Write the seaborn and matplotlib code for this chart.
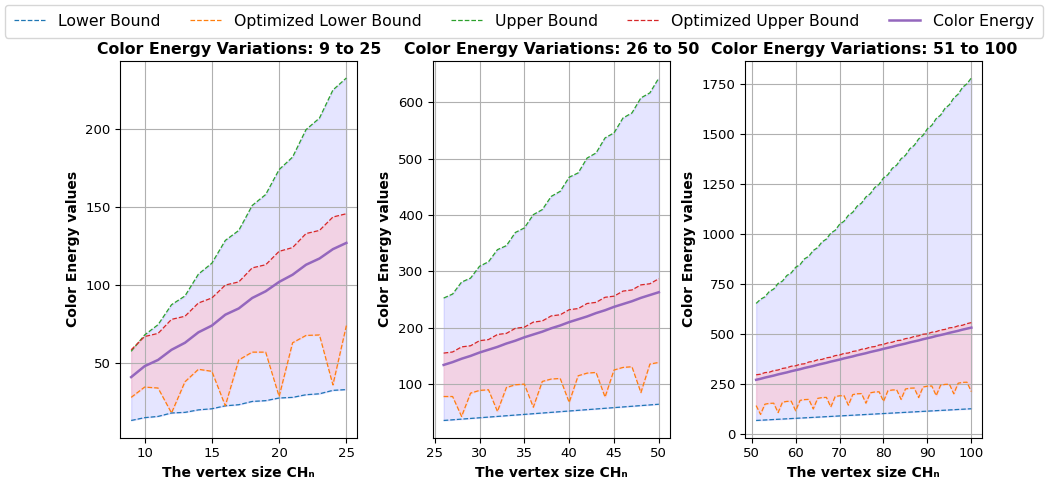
import numpy as np
import pandas as pd
import matplotlib
matplotlib.use("Agg")
import matplotlib.pyplot as plt
from matplotlib.ticker import MultipleLocator
import seaborn as sns

# ---- panel 1: n = 9..25
n1 = list(range(9, 26))
lower1 = [13.2, 15.0, 15.8, 18.0, 18.4, 20.0, 20.7, 22.6, 23.3, 25.4, 25.9, 27.6, 28.0, 29.7, 30.3, 32.5, 33.0]
opt_lower1 = [28.0, 34.6, 34.0, 18.0, 38.0, 46.0, 44.7, 22.6, 52.0, 57.0, 57.0, 28.6, 63.0, 67.7, 68.0, 36.0, 74.0]
upper1 = [57.5, 68.0, 74.6, 87.4, 93.0, 107.0, 114.0, 128.6, 135.0, 151.0, 158.0, 174.0, 182.0, 199.6, 207.0, 225.0, 232.7]
opt_upper1 = [58.5, 67.0, 69.0, 78.0, 80.0, 88.5, 91.7, 100.0, 102.0, 111.0, 113.0, 121.6, 124.0, 133.0, 135.0, 143.6, 145.7]
energy1 = [41.0, 48.0, 52.0, 58.5, 63.0, 69.7, 74.0, 81.0, 85.0, 91.7, 96.0, 102.0, 106.6, 113.0, 117.0, 123.0, 127.0]

# ---- panel 2: n = 26..50
n2 = list(range(26, 51))
lower2 = [35.5, 36.7, 37.9, 39.1, 40.3, 41.5, 42.7, 43.9, 45.1, 46.3, 47.5, 48.7, 49.9,
          51.1, 52.3, 53.5, 54.7, 55.9, 57.1, 58.3, 59.5, 60.7, 61.9, 63.1, 64.3]
opt_lower2 = [78.0, 78.0, 42.6, 84.0, 88.8, 90.0, 51.5, 94.0, 98.8, 100.0, 59.0, 104.7, 109.0,
              110.0, 67.5, 114.8, 119.5, 120.7, 77.0, 125.0, 129.6, 130.8, 85.0, 135.5, 138.5]
upper2 = [252.6, 259.8, 281.0, 288.0, 309.0, 317.0, 338.5, 345.6, 369.0, 377.0, 400.6, 409.5, 433.0,
          442.0, 467.0, 474.6, 501.0, 510.0, 536.7, 545.6, 572.0, 581.0, 607.7, 616.6, 643.0]
opt_upper2 = [155, 157, 166, 168, 177, 179, 188, 190, 199, 201, 210, 212, 221,
              223, 232, 234, 243, 245, 254, 256, 265, 267, 276, 278, 287]
energy2 = [134, 139, 145, 150, 156, 161, 166, 172, 177, 183, 188, 193, 199,
           204, 210, 215, 220, 226, 231, 237, 242, 247, 253, 258, 263]

# ---- panel 3: n = 51..100
n3 = list(range(51, 101))
lower3 = [66.5, 67.8, 68.9, 70.1, 71.3, 72.5, 73.7, 74.9, 76.1, 77.3,
          78.5, 79.6, 80.8, 82.0, 83.2, 84.4, 85.6, 86.8, 88.0, 89.2,
          90.4, 91.6, 92.8, 94.0, 95.2, 96.4, 97.6, 98.8, 100.0, 101.2,
          102.4, 103.6, 104.8, 106.0, 107.2, 108.4, 109.6, 110.8, 112.0, 113.2,
          114.4, 115.6, 116.8, 118.0, 119.2, 120.4, 121.6, 122.8, 124.0, 125.2]
opt_lower3 = [141, 97, 148, 152, 153, 106, 158, 162, 163, 115,
              167, 171, 172, 124, 177, 181, 182, 134, 186, 190,
              191, 143, 196, 200, 201, 153, 205, 209, 210, 162,
              215, 219, 220, 172, 224, 228, 229, 181, 234, 238,
              239, 191, 243, 247, 248, 200, 253, 257, 258, 211]
upper3 = [652, 673, 685, 712, 724, 752, 764, 792, 805, 833,
          846, 875, 888, 917, 931, 960, 974, 1004, 1018, 1048,
          1063, 1093, 1108, 1139, 1154, 1185, 1201, 1232, 1248, 1280,
          1296, 1328, 1344, 1376, 1393, 1426, 1443, 1475, 1493, 1526,
          1543, 1577, 1594, 1628, 1646, 1680, 1699, 1733, 1751, 1780]
opt_upper3 = [295, 298, 306, 308, 316, 319, 327, 330, 338, 340,
              348, 350, 359, 362, 370, 372, 380, 383, 391, 394,
              402, 404, 412, 415, 423, 426, 434, 436, 444, 447,
              455, 458, 466, 468, 476, 479, 487, 490, 498, 500,
              508, 511, 519, 522, 530, 532, 540, 543, 551, 556]
energy3 = [270, 275, 281, 286, 291, 297, 302, 307, 313, 318,
           323, 329, 334, 339, 345, 350, 355, 361, 366, 371,
           377, 382, 387, 393, 398, 403, 409, 414, 419, 425,
           430, 435, 441, 446, 451, 457, 462, 467, 473, 478,
           483, 489, 494, 499, 505, 510, 515, 521, 526, 531]

panels = [
    ("9 to 25", n1, lower1, opt_lower1, upper1, opt_upper1, energy1, 5),
    ("26 to 50", n2, lower2, opt_lower2, upper2, opt_upper2, energy2, 5),
    ("51 to 100", n3, lower3, opt_lower3, upper3, opt_upper3, energy3, 10),
]

fig, axes = plt.subplots(1, 3, figsize=(10.47, 4.83), dpi=100)
fig.subplots_adjust(left=0.115, right=0.938, bottom=0.094, top=0.874, wspace=0.32)

for ax, (label, n, lo, olo, up, oup, en, xstep) in zip(axes, panels):
    df = pd.DataFrame({"n": n, "lo": lo, "olo": olo, "up": up, "oup": oup, "en": en})
    sns.lineplot(data=df, x="n", y="lo", ax=ax, color="tab:blue", linestyle="--", linewidth=0.9, label="Lower Bound")
    sns.lineplot(data=df, x="n", y="olo", ax=ax, color="tab:orange", linestyle="--", linewidth=0.9, label="Optimized Lower Bound")
    sns.lineplot(data=df, x="n", y="up", ax=ax, color="tab:green", linestyle="--", linewidth=0.9, label="Upper Bound")
    sns.lineplot(data=df, x="n", y="oup", ax=ax, color="tab:red", linestyle="--", linewidth=0.9, label="Optimized Upper Bound")
    sns.lineplot(data=df, x="n", y="en", ax=ax, color="tab:purple", linewidth=1.8, label="Color Energy")
    ax.fill_between(df["n"], df["lo"], df["up"], color="blue", alpha=0.1)
    ax.fill_between(df["n"], df["olo"], df["oup"], color="pink", alpha=0.5)
    ax.set_title(f"Color Energy Variations: {label}", fontsize=11.3, fontweight="bold", pad=5)
    ax.set_xlabel("The vertex size CHₙ", fontweight="bold")
    ax.set_ylabel("Color Energy values", fontweight="bold")
    ax.xaxis.set_major_locator(MultipleLocator(xstep))
    ax.tick_params(labelsize=9.5)
    ax.grid(True)
    ax.get_legend().remove()

handles, labels = axes[0].get_legend_handles_labels()
fig.legend(handles, labels, loc="upper left", ncol=5, mode="expand", borderaxespad=0, borderpad=0.56,
           bbox_to_anchor=(5 / 1047, 1 - 5 / 483, 1038 / 1047, 0), fontsize=11.3)

fig.savefig("out.png", dpi=100)
